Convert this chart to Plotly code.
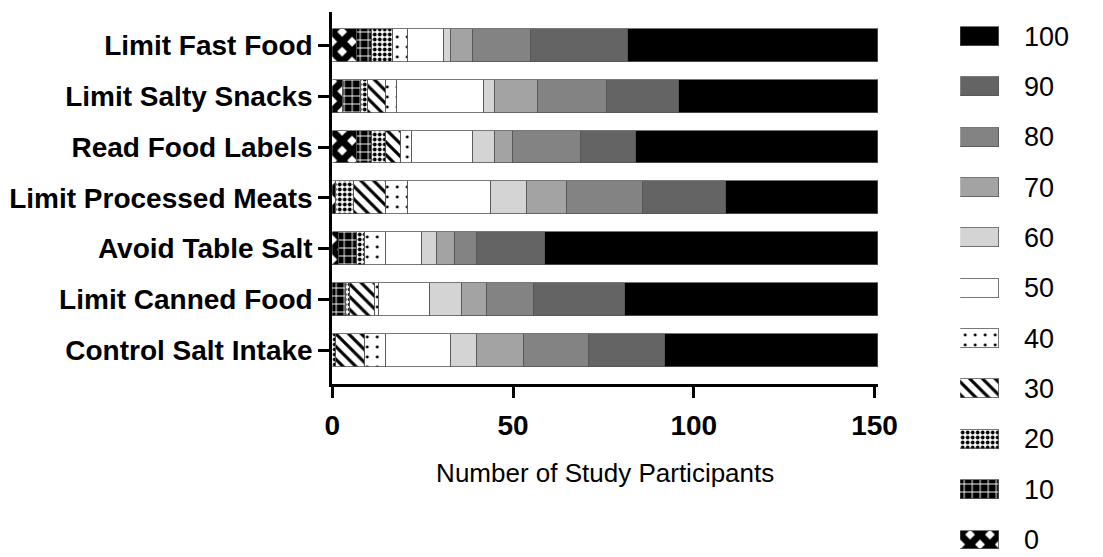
import plotly.graph_objects as go

categories = ["Limit Fast Food", "Limit Salty Snacks", "Read Food Labels",
              "Limit Processed Meats", "Avoid Table Salt", "Limit Canned Food",
              "Control Salt Intake"]
levels = ["0", "10", "20", "30", "40", "50", "60", "70", "80", "90", "100"]

s0 = [7, 3, 7, 1, 2, 0, 0]
s10 = [4, 5, 4, 0, 5, 4, 0]
s20 = [6, 2, 4, 5, 2, 1, 1]
s30 = [0, 5, 4, 9, 0, 7, 8]
s40 = [4, 3, 3, 6, 6, 1, 6]
s50 = [10, 24, 17, 23, 10, 14, 18]
s60 = [2, 3, 6, 10, 4, 9, 7]
s70 = [6, 12, 5, 11, 5, 7, 13]
s80 = [16, 19, 19, 21, 6, 13, 18]
s90 = [27, 20, 15, 23, 19, 25, 21]
s100 = [69, 55, 67, 42, 92, 70, 59]
series = [s0, s10, s20, s30, s40, s50, s60, s70, s80, s90, s100]

xticks = [0, 50, 100, 150]


def pat(shape, fg, bg, size, solidity):
    return dict(shape=shape, fgcolor=fg, bgcolor=bg, size=size,
                solidity=solidity, fgopacity=1, fillmode="replace")


styles = [
    dict(color="#ffffff", pattern=pat("x", "#000000", "#ffffff", 14, 0.75)),
    dict(color="#000000", pattern=pat("+", "#ffffff", "#000000", 8, 0.22)),
    dict(color="#ffffff", pattern=pat(".", "#000000", "#ffffff", 5, 0.45)),
    dict(color="#ffffff", pattern=pat("\\", "#000000", "#ffffff", 9, 0.35)),
    dict(color="#ffffff", pattern=pat(".", "#000000", "#ffffff", 10, 0.07)),
    dict(color="#ffffff"),
    dict(color="#d4d4d4"),
    dict(color="#a3a3a3"),
    dict(color="#838383"),
    dict(color="#646464"),
    dict(color="#000000"),
]

W, H = 1103, 557
x0px, x1px = 332.7, 892.8
ytop, ybot = 12, 383.5

fig = go.Figure()
for lvl, vals, st in zip(levels, series, styles):
    fig.add_trace(go.Bar(
        y=categories, x=vals, orientation="h", name=lvl, width=0.65,
        marker=dict(line=dict(color="#555555", width=0.8), **st),
        showlegend=False, xaxis="x", yaxis="y"))

# legend drawn as a small auxiliary bar chart
for i, (lvl, st) in enumerate(zip(levels, styles)):
    fig.add_trace(go.Bar(
        y=[i], x=[1], orientation="h", width=0.377,
        marker=dict(line=dict(color="#555555", width=0.8), **st),
        showlegend=False, xaxis="x2", yaxis="y2", hoverinfo="skip"))
    fig.add_annotation(x=1040 / W, xref="paper", y=i, yref="y2", text=lvl,
                       showarrow=False, xanchor="left", yanchor="middle",
                       font=dict(size=27, color="black", family="Liberation Sans"))

fig.update_layout(
    width=W, height=H, barmode="stack", bargap=0,
    margin=dict(l=0, r=0, t=0, b=0),
    paper_bgcolor="white", plot_bgcolor="white",
    font=dict(family="Liberation Sans", color="black"),
    xaxis=dict(domain=[x0px / W, x1px / W], range=[0, 151], tickvals=xticks,
               showgrid=False, zeroline=False, showline=True, linecolor="black",
               linewidth=3, ticks="outside", ticklen=11, tickwidth=3,
               tickcolor="black", anchor="y", ticklabelstandoff=4,
               tickfont=dict(size=28, family="Liberation Sans", weight="bold"),
               title=dict(text="Number of Study Participants", standoff=24,
                          font=dict(size=26, family="Liberation Sans"))),
    yaxis=dict(domain=[(H - ybot) / H, (H - ytop) / H], range=[6.66, -0.66],
               type="category", showgrid=False, zeroline=False, showline=True,
               linecolor="black", linewidth=3, ticks="outside", ticklen=11,
               tickwidth=3, tickcolor="black", anchor="x",
               tickfont=dict(size=28, family="Liberation Sans", weight="bold")),
    xaxis2=dict(domain=[977 / W, 1017 / W], range=[0, 1], visible=False,
                anchor="y2", fixedrange=True),
    yaxis2=dict(domain=[0, 1], range=[-0.3376, 10.725], visible=False,
                anchor="x2", fixedrange=True),
)

fig.write_html("out.html", config={"displayModeBar": False},
               post_script="document.body.style.margin='0';")
